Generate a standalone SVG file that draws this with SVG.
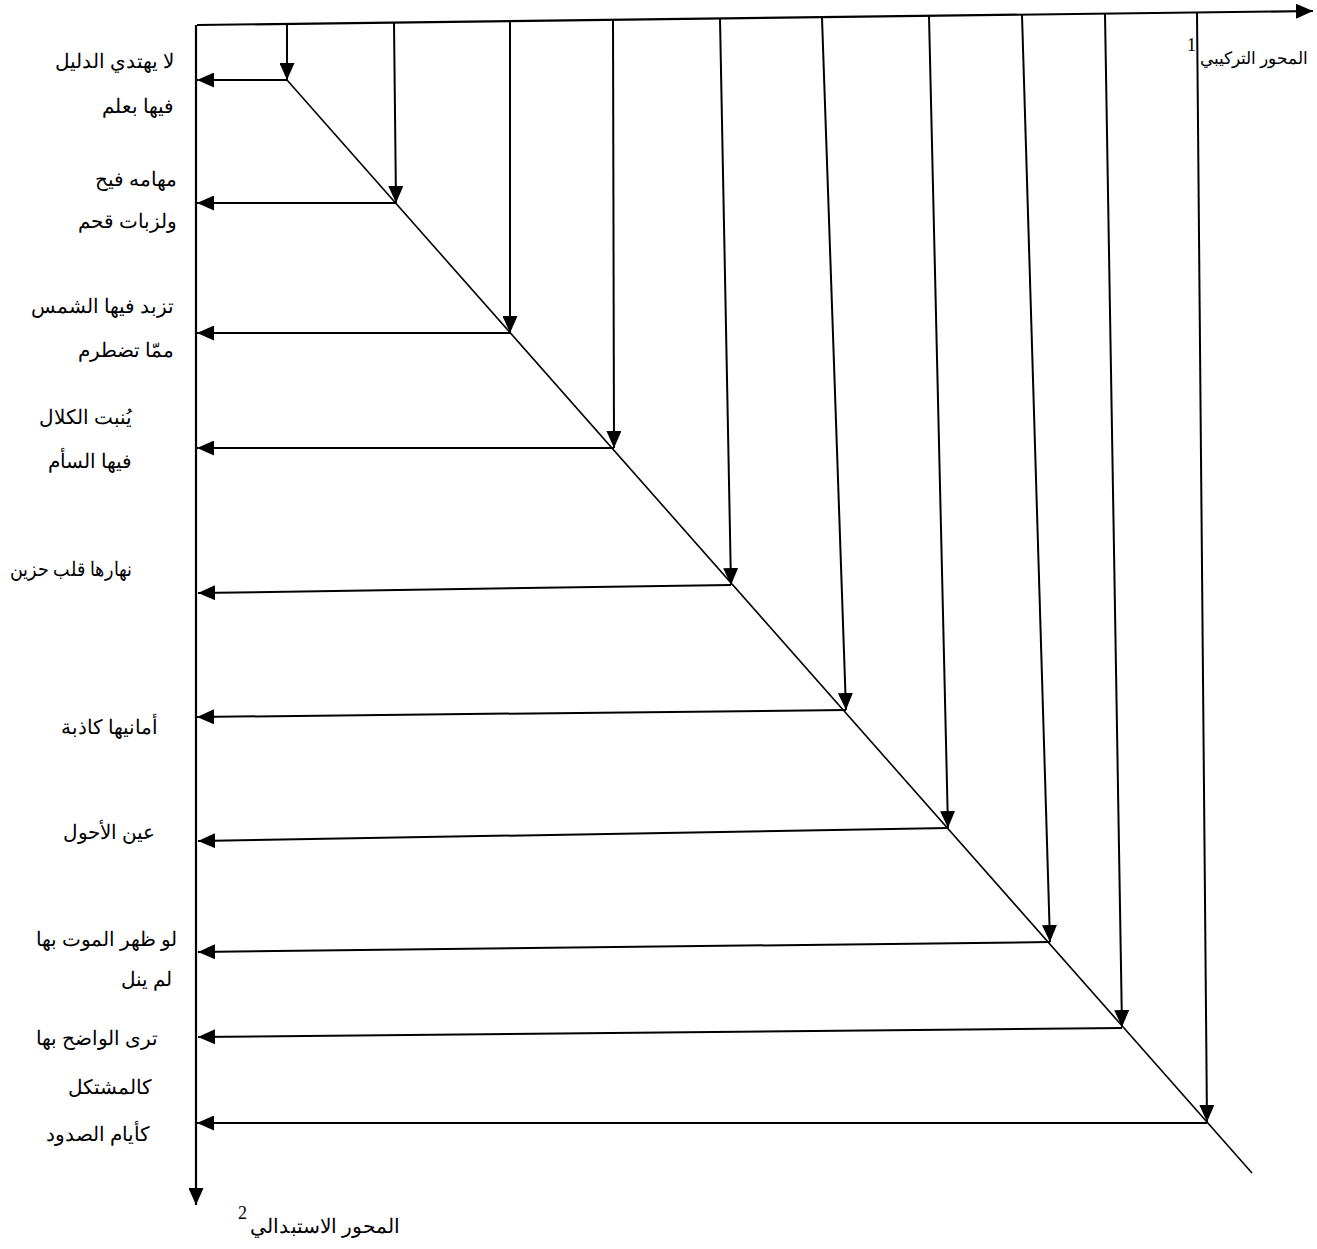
<svg xmlns="http://www.w3.org/2000/svg" width="1317" height="1249" viewBox="0 0 1317 1249">
  <style>
    .axis { stroke: #000; stroke-width: 2.2; fill: none; }
    .arr { stroke: #000; stroke-width: 2; fill: none; }
    .diag { stroke: #000; stroke-width: 1.6; fill: none; }
    .lbl { font-family: "Liberation Serif", "DejaVu Serif", serif; font-size: 20px; fill: #000; text-anchor: end; }
    .sup { font-family: "Liberation Serif", serif; font-size: 18px; fill: #000; }
  </style>
  <defs>
    <marker id="head" markerUnits="userSpaceOnUse" markerWidth="17" markerHeight="15" refX="17" refY="7.5" orient="auto">
      <path d="M0,0 L17,7.5 L0,15 z" fill="#000"/>
    </marker>
  </defs>

  <!-- axes -->
  <g id="axes">
    <line class="axis" x1="197" y1="25" x2="1313" y2="11" marker-end="url(#head)"/>
    <line class="axis" x1="196" y1="25" x2="196" y2="1205" marker-end="url(#head)"/>
  </g>

  <!-- axis titles -->
  <g id="axis-x-label">
    <text class="lbl" x="1308" y="64" style="font-size:17px">المحور التركيبي</text>
    <text class="sup" x="1187" y="51">1</text>
  </g>
  <g id="axis-y-label">
    <text class="lbl" x="400" y="1233" textLength="150" lengthAdjust="spacingAndGlyphs">المحور الاستبدالي</text>
    <text class="sup" x="238" y="1219">2</text>
  </g>

  <!-- connectors: diagonal, drops from the top axis, returns to the left axis -->
  <g id="connectors">
    <line class="diag" x1="287" y1="80" x2="1252" y2="1173"/>

    <line class="arr" x1="287" y1="24" x2="287" y2="80" marker-end="url(#head)"/>
    <line class="arr" x1="394" y1="23" x2="396" y2="203" marker-end="url(#head)"/>
    <line class="arr" x1="510" y1="22" x2="510" y2="333" marker-end="url(#head)"/>
    <line class="arr" x1="613" y1="20" x2="614" y2="448" marker-end="url(#head)"/>
    <line class="arr" x1="720" y1="19" x2="731" y2="585" marker-end="url(#head)"/>
    <line class="arr" x1="822" y1="18" x2="846" y2="710" marker-end="url(#head)"/>
    <line class="arr" x1="929" y1="16" x2="948" y2="828" marker-end="url(#head)"/>
    <line class="arr" x1="1022" y1="15" x2="1050" y2="942" marker-end="url(#head)"/>
    <line class="arr" x1="1105" y1="14" x2="1122" y2="1027" marker-end="url(#head)"/>
    <line class="arr" x1="1197" y1="13" x2="1207" y2="1122" marker-end="url(#head)"/>

    <line class="arr" x1="287" y1="80" x2="197" y2="80" marker-end="url(#head)"/>
    <line class="arr" x1="396" y1="203" x2="197" y2="203" marker-end="url(#head)"/>
    <line class="arr" x1="510" y1="333" x2="197" y2="333" marker-end="url(#head)"/>
    <line class="arr" x1="614" y1="448" x2="197" y2="448" marker-end="url(#head)"/>
    <line class="arr" x1="731" y1="585" x2="198" y2="593" marker-end="url(#head)"/>
    <line class="arr" x1="846" y1="710" x2="197" y2="717" marker-end="url(#head)"/>
    <line class="arr" x1="948" y1="828" x2="198" y2="841" marker-end="url(#head)"/>
    <line class="arr" x1="1050" y1="942" x2="198" y2="952" marker-end="url(#head)"/>
    <line class="arr" x1="1122" y1="1028" x2="198" y2="1037" marker-end="url(#head)"/>
    <line class="arr" x1="1207" y1="1123" x2="197" y2="1123" marker-end="url(#head)"/>
  </g>

  <!-- labels on the left axis -->
  <g id="n1"><text class="lbl" x="174" y="68">لا يهتدي الدليل</text><text class="lbl" x="174" y="113">فيها بعلم</text></g>
  <g id="n2"><text class="lbl" x="177" y="186">مهامه فيح</text><text class="lbl" x="177" y="228">ولزبات قحم</text></g>
  <g id="n3"><text class="lbl" x="174" y="313">تزبد فيها الشمس</text><text class="lbl" x="174" y="357">ممّا تضطرم</text></g>
  <g id="n4"><text class="lbl" x="132" y="424">يُنبت الكلال</text><text class="lbl" x="132" y="468">فيها السأم</text></g>
  <g id="n5"><text class="lbl" x="132" y="576" textLength="122" lengthAdjust="spacingAndGlyphs">نهارها قلب حزين</text></g>
  <g id="n6"><text class="lbl" x="158" y="734">أمانيها كاذبة</text></g>
  <g id="n7"><text class="lbl" x="155" y="839">عين الأحول</text></g>
  <g id="n8"><text class="lbl" x="177" y="946">لو ظهر الموت بها</text><text class="lbl" x="172" y="986">لم ينل</text></g>
  <g id="n9"><text class="lbl" x="158" y="1045">ترى الواضح بها</text><text class="lbl" x="152" y="1094">كالمشتكل</text></g>
  <g id="n10"><text class="lbl" x="150" y="1141">كأيام الصدود</text></g>
</svg>
